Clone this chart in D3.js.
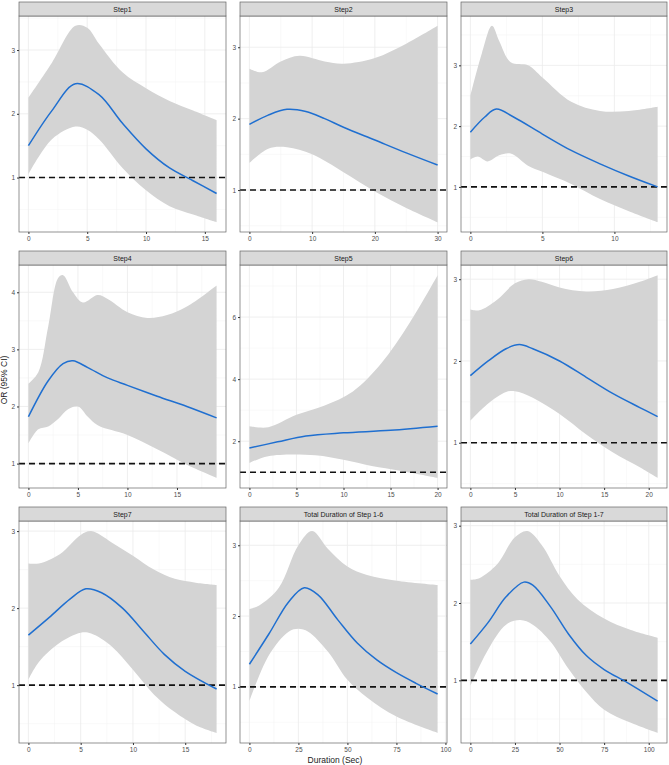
<!DOCTYPE html>
<html><head><meta charset="utf-8">
<script src="https://cdn.jsdelivr.net/npm/d3@7"></script>
<style>body{margin:0;background:#fff}text{font-family:"Liberation Sans",Arial,sans-serif}</style>
</head><body><svg width="669" height="765"></svg>
<script>
// Panel data: x, estimate, lower/upper CI
var titles = ["Step1","Step2","Step3","Step4","Step5","Step6","Step7","Total Duration of Step 1-6","Total Duration of Step 1-7"];
var estX = [
  [0,2,4,6,8,10,12,14,16],
  [0,3,6,9,12,15,20,25,30],
  [0,1,1.8,3,5,7,9,11,13],
  [0,2,3.5,4.5,6,8,10,13,16,19],
  [0,3,6,10,15,20],
  [0,2,4,5.5,7,10,13,16,19,21],
  [0,2,4,5.5,7,9,11,13,15,18],
  [0,10,20,28,35,45,55,65,75,85,96],
  [0,10,20,30,35,45,55,65,75,88,105]];
var estY = [
  [1.5,2.05,2.47,2.3,1.85,1.45,1.15,0.95,0.75],
  [1.92,2.05,2.13,2.1,2.0,1.88,1.7,1.52,1.35],
  [1.9,2.15,2.28,2.15,1.87,1.6,1.38,1.18,1.0],
  [1.82,2.45,2.75,2.8,2.68,2.5,2.37,2.18,2.0,1.8],
  [1.78,1.98,2.17,2.27,2.35,2.48],
  [1.82,2.0,2.15,2.2,2.15,2.0,1.8,1.6,1.43,1.32],
  [1.65,1.88,2.12,2.25,2.2,2.0,1.7,1.4,1.18,0.95],
  [1.32,1.75,2.2,2.4,2.3,1.95,1.62,1.38,1.2,1.05,0.9],
  [1.47,1.75,2.08,2.27,2.23,1.95,1.6,1.32,1.14,0.97,0.73]];
var hiX = [
  [0,2,4,5,6,8,10,12,14,16],
  [0,2,5,8,12,15,20,25,30],
  [0,0.8,1.5,2,2.8,4,5,7,9,11,13],
  [0,1,2,3,3.5,4.5,5.5,7,8,10,12,14,16,19],
  [0,2,5,8,11,14,17,20],
  [0,1,3,5,6.5,8,10,13,16,19,21],
  [0,1,3,5,6,8,10,12,14,16,18],
  [0,5,15,25,32,40,50,60,75,96],
  [0,5,15,25,32,40,50,60,75,90,105]];
var hiY = [
  [2.25,2.8,3.38,3.35,3.1,2.65,2.4,2.2,2.05,1.9],
  [2.7,2.65,2.8,2.88,2.8,2.77,2.85,3.05,3.3],
  [2.5,3.2,3.65,3.4,3.05,3.0,2.8,2.4,2.25,2.25,2.32],
  [2.4,2.6,3.4,4.25,4.3,4.0,3.82,3.95,3.88,3.65,3.55,3.6,3.75,4.12],
  [2.48,2.45,2.85,3.15,3.6,4.5,5.8,7.35],
  [2.63,2.62,2.75,2.95,3.0,2.97,2.9,2.85,2.88,2.97,3.05],
  [2.58,2.58,2.7,2.95,3.0,2.85,2.68,2.5,2.38,2.33,2.3],
  [2.1,2.15,2.4,3.0,3.2,2.95,2.7,2.58,2.5,2.44],
  [2.3,2.32,2.5,2.85,2.93,2.75,2.35,2.05,1.8,1.65,1.55]];
var loX = [
  [0,2,4,5,6,8,10,12,14,16],
  [0,3,6,10,15,20,25,30],
  [0,0.5,1.2,2,2.8,4,5,7,9,11,13],
  [0,1,2,3,4,5,6,7,10,13,16,19],
  [0,2,7,10,13,16,20],
  [0,2,4,5,7,10,13,16,19,21],
  [0,1,3,5,6,8,10,12,14,16,18],
  [0,10,20,25,30,40,50,60,75,96],
  [0,10,20,28,35,45,55,65,75,90,105]];
var loY = [
  [1.05,1.6,1.8,1.75,1.6,1.15,0.8,0.55,0.42,0.3],
  [1.38,1.58,1.6,1.5,1.25,0.98,0.75,0.55],
  [1.45,1.5,1.42,1.52,1.55,1.35,1.25,1.05,0.8,0.6,0.42],
  [1.35,1.6,1.65,1.78,1.95,2.0,1.82,1.67,1.5,1.25,0.98,0.75],
  [1.3,1.52,1.55,1.4,1.2,1.05,0.82],
  [1.27,1.48,1.62,1.63,1.55,1.35,1.1,0.88,0.7,0.57],
  [1.07,1.3,1.55,1.68,1.67,1.5,1.2,0.88,0.65,0.48,0.38],
  [0.8,1.45,1.78,1.82,1.78,1.5,1.1,0.85,0.58,0.35],
  [0.93,1.4,1.72,1.78,1.72,1.5,1.15,0.85,0.62,0.45,0.32]];
var xTicks = [[0,5,10,15],[0,10,20,30],[0,5,10],[0,5,10,15],[0,5,10,15,20],[0,5,10,15,20],[0,5,10,15],[0,25,50,75,100],[0,25,50,75,100]];
var yTicks = [[1,2,3],[1,2,3],[1,2,3],[1,2,3,4],[2,4,6],[1,2,3],[1,2,3],[1,2,3],[1,2,3]];

// Layout
var colX = [[19,226],[240,447],[461,667]],
    stripTop = [2,251,507],
    stripH = 14,
    plotBottom = [232,488,743];

var svg = d3.select("svg");

function expand(ext, f) {
  var d = (ext[1] - ext[0]) * f;
  return [ext[0] - d, ext[1] + d];
}

titles.forEach(function(title, i) {
  var c = i % 3, r = Math.floor(i / 3);
  var x0 = colX[c][0], x1 = colX[c][1], top = stripTop[r] + stripH, bot = plotBottom[r];
  var xs = estX[i];
  var x = d3.scaleLinear().domain(expand([0, xs[xs.length - 1]], 0.05)).range([x0, x1]);
  var yExt = d3.extent(hiY[i].concat(loY[i], [1]));
  var y = d3.scaleLinear().domain(expand(yExt, 0.05)).range([bot, top]);
  var g = svg.append("g");

  // minor & major grid
  var ys = yTicks[i], step = ys[1] - ys[0];
  var yMinor = d3.range(ys[0] - step / 2, ys[ys.length - 1] + step, step).filter(function(v) { return v > y.domain()[0] && v < y.domain()[1]; });
  var xt = xTicks[i], xs2 = xt[1] - xt[0];
  var xMinor = d3.range(xt[0] - xs2 / 2, xt[xt.length - 1] + xs2, xs2).filter(function(v) { return v > x.domain()[0] && v < x.domain()[1]; });
  var ysIn = ys.filter(function(v){ return v <= y.domain()[1]; });
  var xtIn = xt.filter(function(v){ return v <= x.domain()[1]; });
  g.selectAll(".ymn").data(yMinor).enter().append("line")
    .attr("x1", x0).attr("x2", x1).attr("y1", y).attr("y2", y).attr("stroke", "#f2f2f2").attr("stroke-width", 0.5);
  g.selectAll(".xmn").data(xMinor).enter().append("line")
    .attr("y1", top).attr("y2", bot).attr("x1", x).attr("x2", x).attr("stroke", "#f2f2f2").attr("stroke-width", 0.5);
  g.selectAll(".ymj").data(ysIn).enter().append("line")
    .attr("x1", x0).attr("x2", x1).attr("y1", y).attr("y2", y).attr("stroke", "#ebebeb").attr("stroke-width", 0.8);
  g.selectAll(".xmj").data(xtIn).enter().append("line")
    .attr("y1", top).attr("y2", bot).attr("x1", x).attr("x2", x).attr("stroke", "#ebebeb").attr("stroke-width", 0.8);

  // ribbon
  var lineGen = d3.line().curve(d3.curveCatmullRom.alpha(0.5));
  var hiPts = hiX[i].map(function(v, k) { return [x(v), y(hiY[i][k])]; });
  var loPts = loX[i].map(function(v, k) { return [x(v), y(loY[i][k])]; }).reverse();
  g.append("path")
    .attr("d", lineGen(hiPts) + "L" + lineGen(loPts).slice(1) + "Z")
    .attr("fill", "#d4d4d4");

  // reference line
  g.append("line").attr("x1", x0).attr("x2", x1).attr("y1", y(1)).attr("y2", y(1))
    .attr("stroke", "#111").attr("stroke-width", 1.6).attr("stroke-dasharray", "6,4");

  // estimate
  g.append("path")
    .attr("d", lineGen(xs.map(function(v, k) { return [x(v), y(estY[i][k])]; })))
    .attr("fill", "none").attr("stroke", "#1f6fd0").attr("stroke-width", 1.5);

  // border and strip
  g.append("rect").attr("x", x0).attr("y", top).attr("width", x1 - x0).attr("height", bot - top)
    .attr("fill", "none").attr("stroke", "#666").attr("stroke-width", 0.7);
  g.append("rect").attr("x", x0).attr("y", stripTop[r]).attr("width", x1 - x0).attr("height", stripH)
    .attr("fill", "#d9d9d9").attr("stroke", "#666").attr("stroke-width", 0.7);
  g.append("text").attr("x", (x0 + x1) / 2).attr("y", stripTop[r] + 10).attr("text-anchor", "middle")
    .attr("font-size", 7).attr("font-weight", "normal").attr("fill", "#1a1a1a").text(title);

  // axes
  var xa = g.append("g").attr("transform", "translate(0," + bot + ")")
    .call(d3.axisBottom(x).tickValues(xtIn).tickFormat(d3.format("d")).tickSize(2).tickPadding(2));
  var ya = g.append("g").attr("transform", "translate(" + x0 + ",0)")
    .call(d3.axisLeft(y).tickValues(ysIn).tickFormat(d3.format("d")).tickSize(2).tickPadding(2));
  [xa, ya].forEach(function(a) {
    a.select(".domain").remove();
    a.selectAll("line").attr("stroke", "#333");
    a.selectAll("text").attr("font-size", 6.5).attr("fill", "#4d4d4d").style("font-family", "Liberation Sans, Arial, sans-serif");
  });
});

svg.append("text").attr("x", 335).attr("y", 763).attr("text-anchor", "middle")
  .attr("font-size", 8.5).attr("fill", "#222").text("Duration (Sec)");
svg.append("text").attr("transform", "translate(7,380) rotate(-90)").attr("text-anchor", "middle")
  .attr("font-size", 8.5).attr("fill", "#222").text("OR (95% CI)");
</script></body></html>
